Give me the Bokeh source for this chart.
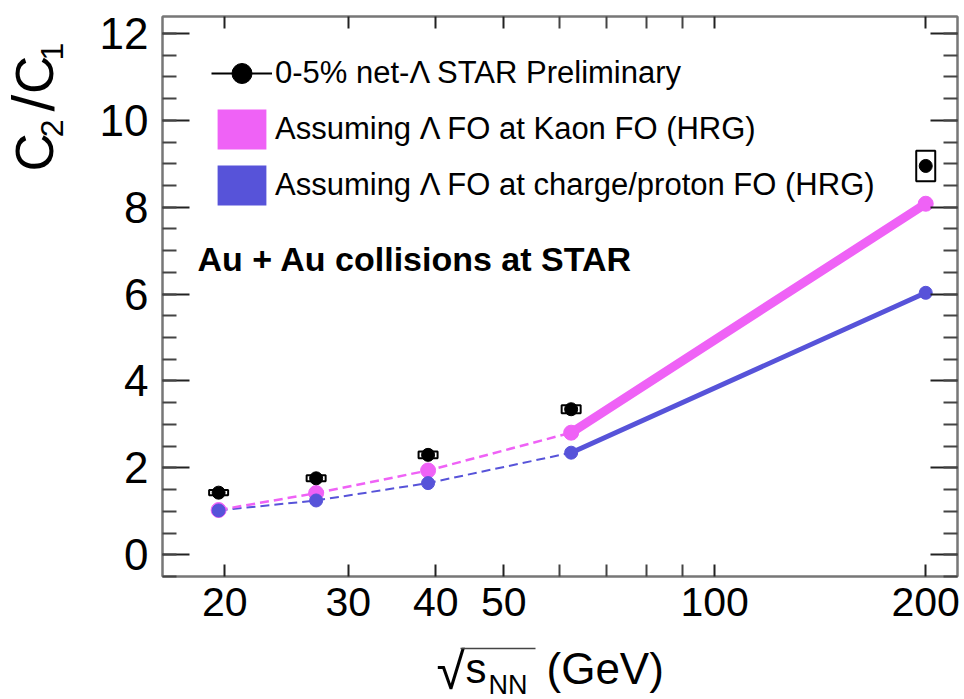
import math
from bokeh.plotting import figure
from bokeh.layouts import row, column
from bokeh.models import (Range1d, LinearAxis, LogAxis, FixedTicker, SingleIntervalTicker,
                          Legend, LegendItem, Label, ColumnDataSource)
from bokeh.core.properties import value
from bokeh.embed import file_html
from bokeh.resources import INLINE

# ---- data ----
energies = [19.6, 27.0, 39.0, 62.4, 200.0]          # sqrt(s_NN) in GeV
star_c2c1 = [1.43, 1.76, 2.30, 3.35, 8.95]          # 0-5% net-Lambda STAR Preliminary
star_sys = [0.06, 0.07, 0.08, 0.09, 0.35]           # systematic half-heights (boxes)
hrg_kaon_fo = [1.03, 1.42, 1.94, 2.81, 8.08]        # Lambda FO at Kaon FO (HRG)
hrg_proton_fo = [1.02, 1.25, 1.65, 2.35, 6.03]      # Lambda FO at charge/proton FO (HRG)
x_major_ticks = [20, 30, 40, 50, 100, 200]
x_minor_ticks = [60, 70, 80, 90]
legend_labels = ["0-5% net-\u039b STAR Preliminary",
                 "Assuming \u039b FO at Kaon FO (HRG)",
                 "Assuming \u039b FO at charge/proton FO (HRG)"]
annotation_text = "Au + Au collisions at STAR"

MAG = "#ef62f6"
BLU = "#5753d9"
FONT = "Liberation Sans"

# ---------------- main plot ----------------
p_main = figure(width=884, height=636, x_axis_type="log",
                x_range=Range1d(16.3, 222), y_range=Range1d(-0.5, 12.39),
                output_backend="svg", toolbar_location=None,
                min_border_left=82, min_border_right=7, min_border_top=16, min_border_bottom=60)
p_main.background_fill_color = "white"
p_main.border_fill_color = "white"
p_main.outline_line_color = "#777777"
p_main.outline_line_width = 2
p_main.xgrid.grid_line_color = None
p_main.ygrid.grid_line_color = None

xt = FixedTicker(ticks=x_major_ticks, minor_ticks=x_minor_ticks)
yt = SingleIntervalTicker(interval=2, num_minor_ticks=4)


def style_axis(ax, tick_in, minor_in):
    ax.axis_line_color = "#777777"
    ax.axis_line_width = 2
    ax.major_tick_in = tick_in
    ax.major_tick_out = 0
    ax.minor_tick_in = minor_in
    ax.minor_tick_out = 0
    ax.major_tick_line_color = "#222222"
    ax.major_tick_line_width = 2
    ax.minor_tick_line_color = "#444444"
    ax.minor_tick_line_width = 2


bottom = p_main.below[0]
bottom.ticker = xt
bottom.major_label_text_font = FONT
bottom.major_label_text_font_size = "41px"
bottom.major_label_text_color = "black"
bottom.major_label_standoff = 11
style_axis(bottom, 12, 12)

left = p_main.left[0]
left.ticker = yt
left.major_label_text_font = FONT
left.major_label_text_font_size = "44px"
left.major_label_text_color = "black"
left.major_label_standoff = 14
style_axis(left, 27, 14)

top = LogAxis(ticker=xt, major_label_text_font_size="1px", major_label_text_color=None,
              major_label_standoff=0)
style_axis(top, 12, 12)
p_main.add_layout(top, "above")
right = LinearAxis(ticker=yt, major_label_text_font_size="1px", major_label_text_color=None,
                   major_label_standoff=0)
style_axis(right, 27, 14)
p_main.add_layout(right, "right")

# ---- model curves ----
p_main.line(energies[:4], hrg_proton_fo[:4], line_color=BLU, line_width=2, line_dash="9 5")
p_main.line(energies[3:], hrg_proton_fo[3:], line_color=BLU, line_width=5, line_cap="round")
p_main.line(energies[:4], hrg_kaon_fo[:4], line_color=MAG, line_width=2.5, line_dash="9 5")
p_main.line(energies[3:], hrg_kaon_fo[3:], line_color=MAG, line_width=9, line_cap="round")
p_main.scatter(energies, hrg_kaon_fo, marker="circle", size=15, fill_color=MAG, line_color=MAG)
p_main.scatter(energies, hrg_proton_fo, marker="circle", size=13, fill_color=BLU, line_color=BLU)

# ---- data points with systematic boxes ----
src = ColumnDataSource(dict(x=energies, y=star_c2c1, h=[2 * s for s in star_sys]))
p_main.rect(x="x", y="y", width=19, width_units="screen", height="h", source=src,
            fill_color="white", line_color="black", line_width=2)
star_r = p_main.scatter(x="x", y="y", source=src, marker="circle", size=13,
                        fill_color="black", line_color="black")

# ---- legend (legend-only renderers draw nothing visible in the frame) ----
leg_line = p_main.line(x=energies[:1], y=star_c2c1[:1], line_color="black", line_width=2)
leg_mag = p_main.quad(left=energies[:1], right=energies[:1], top=hrg_kaon_fo[:1],
                      bottom=hrg_kaon_fo[:1], fill_color=MAG, line_color=None)
leg_blu = p_main.quad(left=energies[:1], right=energies[:1], top=hrg_proton_fo[:1],
                      bottom=hrg_proton_fo[:1], fill_color=BLU, line_color=None)
legend = Legend(items=[LegendItem(label=legend_labels[0], renderers=[leg_line, star_r]),
                       LegendItem(label=legend_labels[1], renderers=[leg_mag]),
                       LegendItem(label=legend_labels[2], renderers=[leg_blu])],
                location=(49, 366), orientation="vertical",
                glyph_width=61, glyph_height=50, label_height=50, spacing=6,
                padding=0, margin=0, border_line_color=None, background_fill_alpha=0,
                label_text_font=FONT, label_text_font_size="31px", label_standoff=3,
                label_text_color="black")
p_main.add_layout(legend, "center")

p_main.add_layout(Label(x=35, y=318, x_units="screen", y_units="screen",
                        text=annotation_text, text_font=FONT, text_font_style="bold",
                        text_font_size="34px", text_baseline="middle", text_color="black"))


def blank_fig(w, h):
    f = figure(width=w, height=h, x_range=Range1d(0, w), y_range=Range1d(0, h),
               output_backend="svg", toolbar_location=None, min_border=0,
               x_axis_location=None, y_axis_location=None)
    f.outline_line_color = None
    f.grid.grid_line_color = None
    f.background_fill_color = "white"
    f.border_fill_color = "white"
    return f


# ---------------- y-axis title: C2/C1 (rotated) ----------------
ylab = blank_fig(80, 636)
ytitle = ColumnDataSource(dict(
    t=["C", "2", "/", "C", "1"],
    x=[34, 51, 33, 34, 51],
    y=[460, 499, 528, 548, 586],
    fs=["53px", "32px", "60px", "53px", "32px"]))
ylab.text(x="x", y="y", text="t", source=ytitle, angle=math.pi / 2,
          text_font=value(FONT), text_font_size="fs", text_align="left",
          text_baseline="alphabetic", text_color="black")

# ---------------- x-axis title: sqrt(s_NN) (GeV) ----------------
xlab = blank_fig(964, 63)
xtitle = ColumnDataSource(dict(
    t=["\u221a", "s", "NN", "(GeV)"],
    x=[436, 465, 488, 546],
    y=[29, 31, 15, 31],
    fs=["52px", "42px", "27px", "44px"]))
xlab.text(x="x", y="y", text="t", source=xtitle, text_font=value(FONT),
          text_font_size="fs", text_align="left", text_baseline="alphabetic",
          text_color="black")
xlab.segment(x0=[460], y0=[51], x1=[535], y1=[51], line_color="#444444", line_width=1.5)

p = column(row(ylab, p_main, spacing=0), xlab, spacing=0)

open("out.html", "w").write(file_html(p, INLINE))
